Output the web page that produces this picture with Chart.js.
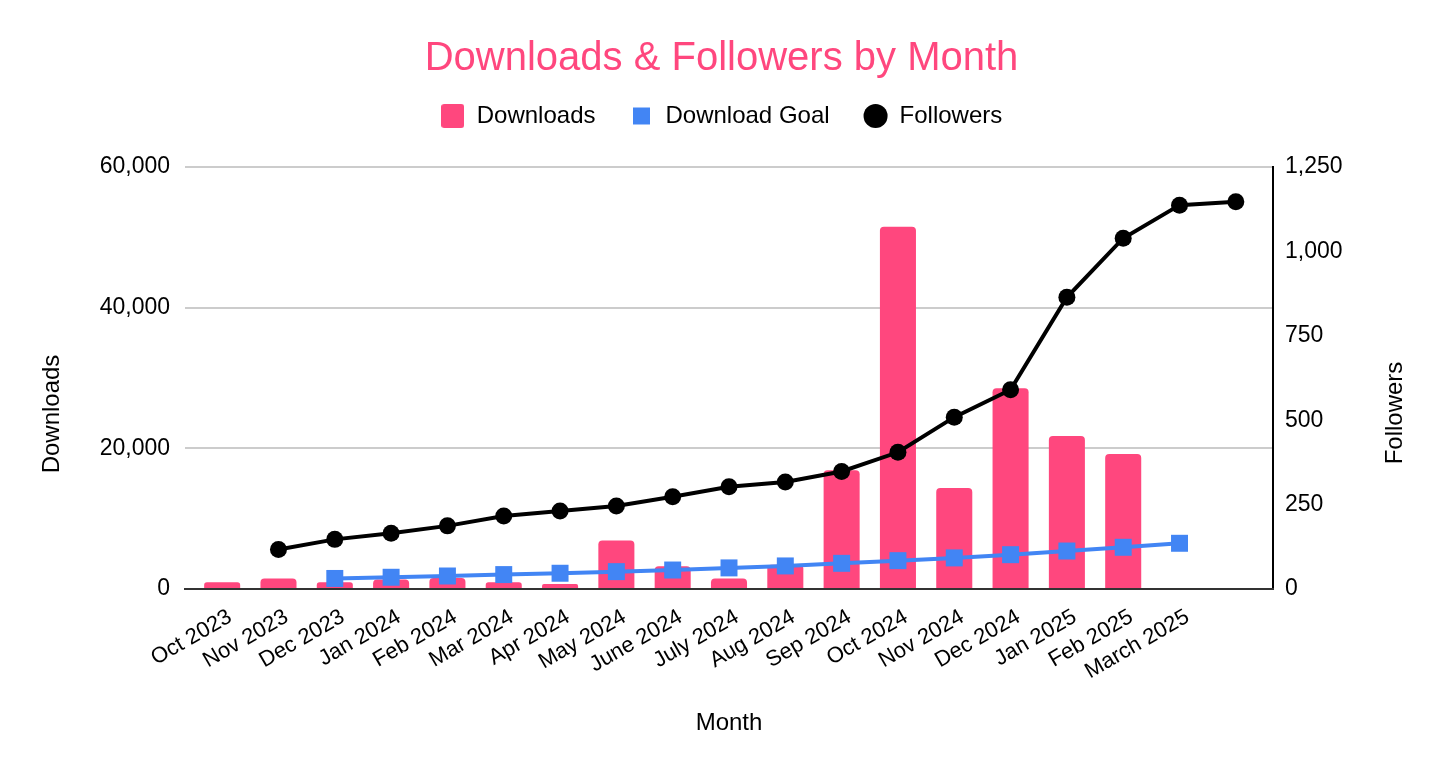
<!doctype html>
<html>

<head>
    <meta charset="UTF-8">
    <script src="https://cdn.jsdelivr.net/npm/chart.js"></script>
    <style>
        body { margin: 0; background: #fff; }
        #wrap { width: 1443px; height: 774px; }
    </style>
</head>

<body>
    <div id="wrap"><canvas id="chart"></canvas></div>

<script>
    // chart data
    const months = ['Oct 2023', 'Nov 2023', 'Dec 2023', 'Jan 2024', 'Feb 2024', 'Mar 2024', 'Apr 2024', 'May 2024',
        'June 2024', 'July 2024', 'Aug 2024', 'Sep 2024', 'Oct 2024', 'Nov 2024', 'Dec 2024', 'Jan 2025',
        'Feb 2025', 'March 2025', ''];
    const downloads = [950, 1480, 950, 1350, 1550, 950, 700, 6900, 3250, 1500, 3450, 16900, 51500, 14350, 28550, 21750, 19200, null, null];
    const downloadGoal = [null, null, 1500, 1670, 1850, 2050, 2240, 2470, 2700, 3000, 3280, 3650, 4030, 4420, 4880, 5400, 5930, 6500, null];
    const followers = [null, 117, 147, 165, 187, 216, 231, 246, 273, 303, 317, 348, 405, 509, 590, 864, 1039, 1137, 1147];

    const PINK = '#ff477e';
    const BLUE = '#4285f4';
    const FONT = '"Liberation Sans", Arial, sans-serif';

    Chart.defaults.font.family = FONT;
    Chart.defaults.color = '#000';

    const toPoints = (arr) => arr.map((v, i) => ({ x: i, y: v }));

    // legend swatch for the bars: slightly rounded square
    const swatch = document.createElement('canvas');
    swatch.width = 23;
    swatch.height = 24;
    const sctx = swatch.getContext('2d');
    sctx.fillStyle = PINK;
    sctx.beginPath();
    if (sctx.roundRect) sctx.roundRect(0, 0, 23, 24, 3);
    else sctx.rect(0, 0, 23, 24);
    sctx.fill();

    // extra room under the legend
    const legendGap = {
        id: 'legendGap',
        beforeInit(chart) {
            const fit = chart.legend.fit;
            chart.legend.fit = function () {
                fit.bind(chart.legend)();
                this.height += 29;
            };
        }
    };

    // vertical axis titles, centred like the sheets chart
    const sideTitles = {
        id: 'sideTitles',
        afterDraw(chart) {
            const ctx = chart.ctx;
            ctx.save();
            ctx.font = '24px ' + FONT;
            ctx.fillStyle = '#000';
            ctx.textAlign = 'center';
            ctx.textBaseline = 'middle';
            [['Downloads', 52, 414], ['Followers', 1395, 413]].forEach(([text, x, y]) => {
                ctx.save();
                ctx.translate(x, y);
                ctx.rotate(-Math.PI / 2);
                ctx.fillText(text, 0, 0);
                ctx.restore();
            });
            ctx.restore();
        }
    };

    new Chart(document.getElementById('chart'), {
        type: 'bar',
        data: {
            datasets: [
                {
                    label: 'Downloads',
                    data: toPoints(downloads),
                    backgroundColor: PINK,
                    borderWidth: 0,
                    borderRadius: 4,
                    pointStyle: swatch,
                    categoryPercentage: 1,
                    barPercentage: 0.64,
                    yAxisID: 'y',
                    order: 3
                },
                {
                    type: 'line',
                    label: 'Download Goal',
                    data: toPoints(downloadGoal),
                    borderColor: BLUE,
                    backgroundColor: BLUE,
                    borderWidth: 4,
                    pointStyle: 'rect',
                    pointRadius: 12,
                    pointBorderWidth: 0,
                    pointBackgroundColor: BLUE,
                    yAxisID: 'y',
                    order: 2
                },
                {
                    type: 'line',
                    label: 'Followers',
                    data: toPoints(followers),
                    borderColor: '#000',
                    backgroundColor: '#000',
                    borderWidth: 4,
                    pointStyle: 'circle',
                    pointRadius: 8.5,
                    pointBorderWidth: 0,
                    pointBackgroundColor: '#000',
                    yAxisID: 'y1',
                    order: 1
                }
            ]
        },
        options: {
            responsive: true,
            maintainAspectRatio: false,
            animation: false,
            layout: { padding: 0 },
            plugins: {
                title: {
                    display: true,
                    text: 'Downloads & Followers by Month',
                    color: PINK,
                    font: { size: 40, weight: 'normal' },
                    padding: { top: 35, bottom: -13 }
                },
                legend: {
                    labels: {
                        usePointStyle: true,
                        boxWidth: 24,
                        boxHeight: 17,
                        padding: 34,
                        font: { size: 24 },
                        color: '#000',
                        sort: (a, b) => a.datasetIndex - b.datasetIndex
                    }
                },
                tooltip: { enabled: false }
            },
            scales: {
                x: {
                    type: 'linear',
                    offset: false,
                    min: -0.66,
                    max: 18.66,
                    afterBuildTicks: (scale) => {
                        scale.ticks = months.map((m, i) => ({ value: i }));
                    },
                    afterFit: (scale) => { scale.height = 185; },
                    ticks: {
                        autoSkip: false,
                        minRotation: 30,
                        maxRotation: 30,
                        padding: 15,
                        labelOffset: 8,
                        font: { size: 22 },
                        callback: (v) => months[v]
                    },
                    grid: { display: false, drawTicks: false },
                    border: { display: true, color: '#333', width: 2, z: 1 },
                    title: {
                        display: true,
                        text: 'Month',
                        font: { size: 24 },
                        padding: { top: 0, bottom: 36 }
                    }
                },
                y: {
                    position: 'left',
                    min: 0,
                    max: 60000,
                    afterFit: (scale) => { scale.width = 185; },
                    ticks: {
                        stepSize: 20000,
                        padding: 15,
                        font: { size: 23 },
                        callback: (v) => v.toLocaleString('en-US')
                    },
                    grid: { color: '#cccccc', lineWidth: 2, drawTicks: false },
                    border: { display: false }
                },
                y1: {
                    position: 'right',
                    min: 0,
                    max: 1250,
                    afterFit: (scale) => { scale.width = 170; },
                    ticks: {
                        stepSize: 250,
                        padding: 12,
                        font: { size: 23 },
                        callback: (v) => v.toLocaleString('en-US')
                    },
                    grid: { display: false, drawTicks: false },
                    border: { display: true, color: '#000', width: 2 }
                }
            }
        },
        plugins: [legendGap, sideTitles]
    });
</script>
</body>
</html>
